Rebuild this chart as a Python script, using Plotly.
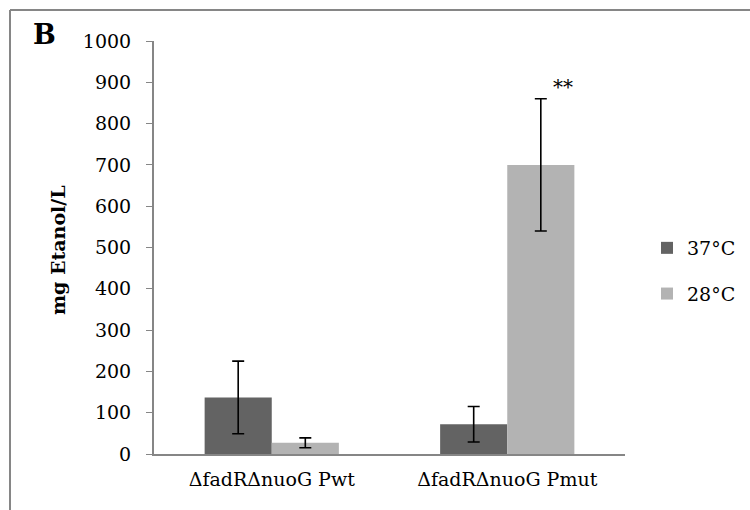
import plotly.graph_objects as go

# Ethanol production per strain at two temperatures
strains = ["ΔfadRΔnuoG Pwt", "ΔfadRΔnuoG Pmut"]
temps = ["37°C", "28°C"]
mean_37 = [137, 72]
err_37 = [88, 43]
mean_28 = [27, 700]
err_28 = [12, 160]
y_ticks = [0, 100, 200, 300, 400, 500, 600, 700, 800, 900, 1000]

serif = "DejaVu Serif"
axis_grey = "#868686"

# plot-area geometry in pixels
L, R, T, B = 154, 625, 41, 454
W, H = R - L, B - T


def px(xpix):
    return (xpix - L) / W


def py(ypix):
    return (B - ypix) / H


fig = go.Figure()
for name, vals, errs, color, grp in [
    (temps[0], mean_37, err_37, "#636363", "a"),
    (temps[1], mean_28, err_28, "#b3b3b3", "b"),
]:
    fig.add_trace(go.Bar(
        x=strains, y=vals, name=name, legendgroup=grp,
        marker=dict(color=color, line=dict(width=0)),
        error_y=dict(type="data", array=errs, visible=True,
                     color="black", thickness=1.6, width=6),
    ))

fig.add_annotation(x=strains[1], y=888, xref="x", yref="y", text="**",
                   showarrow=False, xshift=56, xanchor="center", yanchor="middle",
                   font=dict(size=20, color="black", family=serif))
fig.add_annotation(x=px(44), y=py(34), xref="paper", yref="paper", text="<b>B</b>",
                   showarrow=False, xanchor="center", yanchor="middle",
                   font=dict(size=27, color="black", family=serif))
fig.add_annotation(x=px(58), y=py(250), xref="paper", yref="paper",
                   text="<b>mg Etanol/L</b>", textangle=-90, showarrow=False,
                   xanchor="center", yanchor="middle",
                   font=dict(size=19, color="black", family=serif))

fig.update_layout(
    width=750, height=510,
    margin=dict(l=L, r=750 - R, t=T, b=510 - B, autoexpand=False),
    paper_bgcolor="white", plot_bgcolor="white",
    barmode="group", bargap=0.43, bargroupgap=0,
    font=dict(family=serif, color="black", size=18),
    showlegend=True,
    legend=dict(x=px(647), y=py(229), xanchor="left", yanchor="top",
                font=dict(size=19, family=serif, color="black"), tracegroupgap=18,
                bgcolor="rgba(0,0,0,0)", itemwidth=30),
    xaxis=dict(showline=True, linecolor=axis_grey, linewidth=2, ticks="",
               ticklabelstandoff=7,
               tickfont=dict(size=19, family=serif), showgrid=False),
    yaxis=dict(range=[0, 1000], tickvals=y_ticks, showline=True, linecolor=axis_grey,
               linewidth=2, ticks="outside", ticklen=6, tickcolor=axis_grey,
               ticklabelstandoff=11,
               showgrid=False, zeroline=False, tickfont=dict(size=19, family=serif)),
)

# outer frame around the whole panel (top and left edges visible)
fig.add_shape(type="line", xref="paper", yref="paper",
              x0=px(10), x1=px(760), y0=py(10), y1=py(10),
              line=dict(color=axis_grey, width=2))
fig.add_shape(type="line", xref="paper", yref="paper",
              x0=px(10), x1=px(10), y0=py(10), y1=py(520),
              line=dict(color=axis_grey, width=2))

fig.write_html("out.html")
